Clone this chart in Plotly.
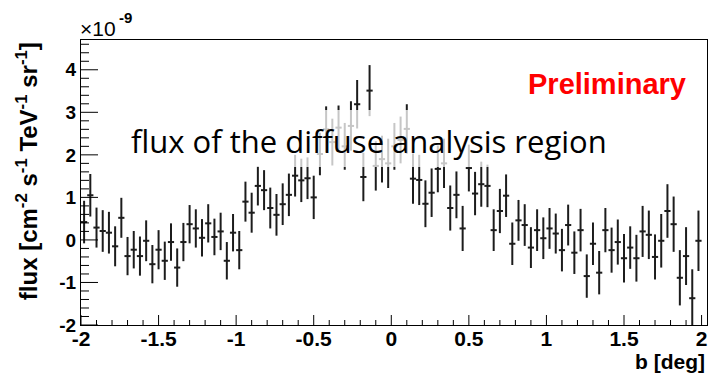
import numpy as np
import plotly.graph_objects as go

# Galactic latitude bin centres [deg]
b_deg = [
    -1.98, -1.94, -1.90, -1.86, -1.82, -1.78, -1.74, -1.70, -1.66, -1.62,
    -1.58, -1.54, -1.50, -1.46, -1.42, -1.38, -1.34, -1.30, -1.26, -1.22,
    -1.18, -1.14, -1.10, -1.06, -1.02, -0.98, -0.94, -0.90, -0.86, -0.82,
    -0.78, -0.74, -0.70, -0.66, -0.62, -0.58, -0.54, -0.50, -0.46, -0.42,
    -0.38, -0.34, -0.30, -0.26, -0.22, -0.18, -0.14, -0.10, -0.06, -0.02,
    0.02, 0.06, 0.10, 0.14, 0.18, 0.22, 0.26, 0.30, 0.34, 0.38,
    0.42, 0.46, 0.50, 0.54, 0.58, 0.62, 0.66, 0.70, 0.74, 0.78,
    0.82, 0.86, 0.90, 0.94, 0.98, 1.02, 1.06, 1.10, 1.14, 1.18,
    1.22, 1.26, 1.30, 1.34, 1.38, 1.42, 1.46, 1.50, 1.54, 1.58,
    1.62, 1.66, 1.70, 1.74, 1.78, 1.82, 1.86, 1.90, 1.94, 1.98,
]

# Flux per bin, in units of 1e-9 cm^-2 s^-1 TeV^-1 sr^-1
flux = [
    0.42, 1.05, 0.29, 0.21, 0.17, -0.15, 0.52, -0.38, -0.23, -0.38,
    -0.02, -0.57, -0.23, -0.49, -0.05, -0.65, -0.05, 0.37, 0.27, 0.05,
    0.39, 0.07, 0.20, -0.49, 0.17, -0.24, 0.90, 0.64, 1.27, 1.17,
    0.75, 0.59, 0.84, 1.06, 1.51, 1.40, 1.45, 1.00, 2.02, 2.60,
    2.30, 2.64, 2.20, 2.68, 3.19, 1.48, 3.51, 1.74, 1.90, 1.80,
    2.20, 2.35, 2.61, 1.44, 1.41, 0.85, 1.11, 1.67, 1.80, 0.75,
    1.06, 0.27, 1.69, 1.09, 1.31, 1.27, 0.23, 0.68, 1.04, -0.09,
    0.46, 0.35, -0.18, 0.23, 0.04, 0.27, 0.15, -0.24, 0.35, -0.30,
    0.23, -0.85, -0.09, -0.77, 0.23, -0.24, -0.05, -0.43, -0.18, -0.43,
    0.20, 0.12, -0.40, -0.02, 0.68, 0.37, -0.89, -0.38, -1.37, -0.02,
]

# Statistical uncertainty per bin, same units
flux_err = [
    0.50, 0.50, 0.47, 0.49, 0.49, 0.47, 0.47, 0.45, 0.44, 0.46,
    0.48, 0.45, 0.46, 0.45, 0.44, 0.45, 0.45, 0.45, 0.45, 0.44,
    0.45, 0.43, 0.44, 0.44, 0.44, 0.45, 0.47, 0.47, 0.46, 0.47,
    0.48, 0.49, 0.49, 0.50, 0.49, 0.51, 0.49, 0.51, 0.50, 0.54,
    0.55, 0.52, 0.55, 0.58, 0.57, 0.57, 0.60, 0.58, 0.55, 0.58,
    0.55, 0.55, 0.58, 0.59, 0.59, 0.55, 0.57, 0.55, 0.58, 0.53,
    0.55, 0.53, 0.55, 0.51, 0.53, 0.50, 0.49, 0.52, 0.50, 0.50,
    0.48, 0.49, 0.48, 0.49, 0.49, 0.48, 0.47, 0.50, 0.48, 0.50,
    0.50, 0.51, 0.50, 0.51, 0.52, 0.53, 0.53, 0.57, 0.50, 0.55,
    0.60, 0.57, 0.53, 0.63, 0.63, 0.65, 0.65, 0.68, 0.68, 0.71,
]

bin_half_width = 0.02

x_tick_vals = [-2, -1.5, -1, -0.5, 0, 0.5, 1, 1.5, 2]
x_tick_text = ["-2", "-1.5", "-1", "-0.5", "0", "0.5", "1", "1.5", "2"]
y_tick_vals = [-2, -1, 0, 1, 2, 3, 4]
y_tick_text = ["-2", "-1", "0", "1", "2", "3", "4"]

X_RANGE = [-2, 2.035]
Y_RANGE = [-2, 4.7]

INK = "#1c1c1c"
BOLD_FONT = "Liberation Sans"

W, H = 712, 382
MARGIN = dict(l=81, r=5, t=40, b=57)
PLOT_W = W - MARGIN["l"] - MARGIN["r"]
PLOT_H = H - MARGIN["t"] - MARGIN["b"]

fig = go.Figure()
fig.add_trace(go.Scatter(
    x=b_deg, y=flux, mode="markers",
    marker=dict(size=1, color=INK),
    error_y=dict(type="data", array=flux_err, width=0, thickness=2, color=INK),
    error_x=dict(type="constant", value=bin_half_width, width=0, thickness=2, color=INK),
    hoverinfo="x+y",
))

fig.update_layout(
    xaxis=dict(
        range=X_RANGE, showline=True, linecolor="#000", linewidth=1, mirror=True,
        showgrid=False, zeroline=False, ticks="",
        tickmode="array", tickvals=x_tick_vals, ticktext=x_tick_text,
        tickfont=dict(family=BOLD_FONT, size=21, color="#000", weight="bold"),
        ticklabelstandoff=-5,
    ),
    yaxis=dict(
        range=Y_RANGE, showline=True, linecolor="#000", linewidth=1, mirror=True,
        showgrid=False, zeroline=False, ticks="",
        tickmode="array", tickvals=y_tick_vals, ticktext=y_tick_text,
        tickfont=dict(family=BOLD_FONT, size=19, color="#000", weight="bold"),
    ),
)

# inward-pointing tick marks along the bottom and left edges (ROOT style)
tick_line = dict(color="#000", width=1)
x_minor = [v for v in np.round(np.arange(-2, 2.001, 0.1), 2) if v not in x_tick_vals]
y_minor = [v for v in np.round(np.arange(-2, 4.7, 0.2), 2) if v not in y_tick_vals]
for v in x_tick_vals:
    fig.add_shape(type="line", xref="x", yref="paper", x0=v, x1=v, y0=0,
                  y1=10 / PLOT_H, line=tick_line, layer="above")
for v in x_minor:
    fig.add_shape(type="line", xref="x", yref="paper", x0=v, x1=v, y0=0,
                  y1=5 / PLOT_H, line=tick_line, layer="above")
for v in y_tick_vals:
    fig.add_shape(type="line", xref="paper", yref="y", x0=0, x1=17 / PLOT_W,
                  y0=v, y1=v, line=tick_line, layer="above")
for v in y_minor:
    fig.add_shape(type="line", xref="paper", yref="y", x0=0, x1=8 / PLOT_W,
                  y0=v, y1=v, line=tick_line, layer="above")

# translucent white panel behind the caption
fig.add_shape(type="rect", xref="paper", yref="paper",
              x0=0.0655, x1=0.853, y0=0.554, y1=0.754,
              fillcolor="rgba(255,255,255,0.75)", line=dict(width=0), layer="above")

fig.add_annotation(
    text="flux [cm<sup>-2</sup> s<sup>-1</sup> TeV<sup>-1</sup> sr<sup>-1</sup>]",
    textangle=-90, xref="paper", yref="paper", x=-0.086, y=1.0,
    xanchor="center", yanchor="top", showarrow=False,
    font=dict(family=BOLD_FONT, size=24, color="#000", weight="bold"),
)
fig.add_annotation(
    text="b [deg]", xref="paper", yref="paper", x=1.0, y=-0.128,
    xanchor="right", yanchor="middle", showarrow=False,
    font=dict(family=BOLD_FONT, size=21, color="#000", weight="bold"),
)
fig.add_annotation(
    text="×10", xref="paper", yref="paper", x=-0.004, y=1.04,
    xanchor="left", yanchor="middle", showarrow=False,
    font=dict(family=BOLD_FONT, size=21, color="#000"),
)
fig.add_annotation(
    text="-9", xref="paper", yref="paper", x=0.057, y=1.08,
    xanchor="left", yanchor="middle", showarrow=False,
    font=dict(family=BOLD_FONT, size=15, color="#000", weight="bold"),
)
fig.add_annotation(
    text="Preliminary", xref="paper", yref="paper", x=0.841, y=0.845,
    xanchor="center", yanchor="middle", showarrow=False,
    font=dict(family=BOLD_FONT, size=29, color="#ff0000", weight="bold"),
)
fig.add_annotation(
    text="flux of the diffuse analysis region", xref="paper", yref="paper",
    x=0.076, y=0.645, xanchor="left", yanchor="middle", showarrow=False,
    font=dict(family="Open Sans", size=31, color="#000"),
)

fig.update_layout(
    width=W, height=H,
    margin=MARGIN,
    paper_bgcolor="white", plot_bgcolor="white",
    showlegend=False,
)

fig.write_html("out.html")
